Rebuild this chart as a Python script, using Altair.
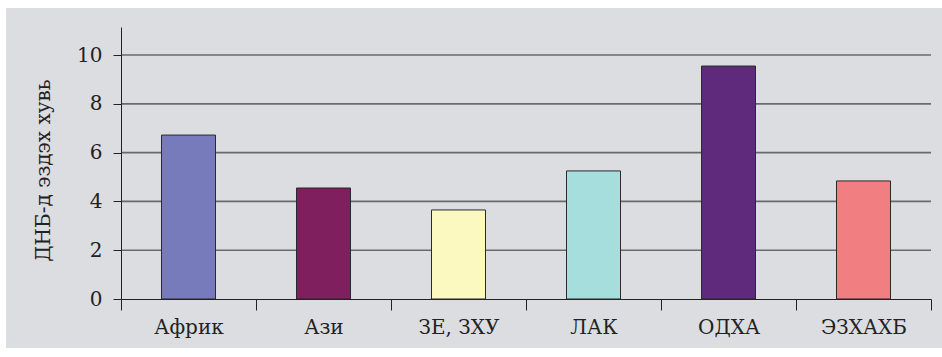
import altair as alt
import pandas as pd

categories = ["Африк", "Ази", "ЗЕ, ЗХУ", "ЛАК", "ОДХА", "ЭЗХАХБ"]
values = [6.72, 4.55, 3.65, 5.25, 9.55, 4.84]
colors = ["#787bbb", "#801f5e", "#fbf8c0", "#a6dddd", "#5f2a7b", "#f17e80"]
grid_values = [2, 4, 6, 8, 10]
y_ticks = [0, 2, 4, 6, 8, 10]

FONT = "DejaVu Serif"
df = pd.DataFrame({"region": categories, "value": values})
grid_df = pd.DataFrame({"g": grid_values})

x_enc = alt.X(
    "region:N",
    sort=categories,
    scale=alt.Scale(paddingInner=0, paddingOuter=0),
    axis=alt.Axis(
        title=None, tickBand="extent", tickSize=11, tickColor="#222",
        domainColor="#222", labelFont=FONT, labelFontSize=20, labelColor="#222",
        labelPadding=7, labelAngle=0, zindex=1, grid=False,
    ),
)
y_scale = alt.Scale(domain=[0, 11.15], nice=False)

bg = alt.Chart(pd.DataFrame({"a": [0]})).mark_rect(color="#dcdde0").encode(
    x=alt.value(-115), x2=alt.value(821), y=alt.value(-19), y2=alt.value(321)
)

grid = alt.Chart(grid_df).mark_rule(color="#6a6a6a", strokeWidth=1.6).encode(
    y=alt.Y("g:Q", scale=y_scale),
    x=alt.value(0), x2=alt.value(810),
)

bars = alt.Chart(df).mark_bar(
    width=alt.RelativeBandSize(0.4), stroke="#2a2a2a", strokeWidth=1
).encode(
    x=x_enc,
    y=alt.Y(
        "value:Q",
        scale=y_scale,
        axis=alt.Axis(
            values=y_ticks, title="ДНБ-д эздэх хувь", grid=False,
            tickSize=8, tickColor="#222", domainColor="#222",
            labelFont=FONT, labelFontSize=20, labelColor="#222", labelPadding=11,
            titleFont=FONT, titleFontSize=20, titleFontWeight="normal", titleColor="#222",
            titleAngle=-90, titleX=-78, titleY=143, titleAlign="center",
            titleBaseline="middle", zindex=1,
        ),
    ),
    color=alt.Color("region:N", scale=alt.Scale(domain=categories, range=colors), legend=None),
)

chart = alt.layer(bg, grid, bars).properties(
    width=810, height=272,
    autosize=alt.AutoSizeParams(type="none"),
    padding={"left": 121, "top": 27, "right": 11, "bottom": 58},
    background="white",
).configure_view(stroke=None).configure(font=FONT)

chart.save("out.html", embed_options={"renderer": "svg", "actions": False})
